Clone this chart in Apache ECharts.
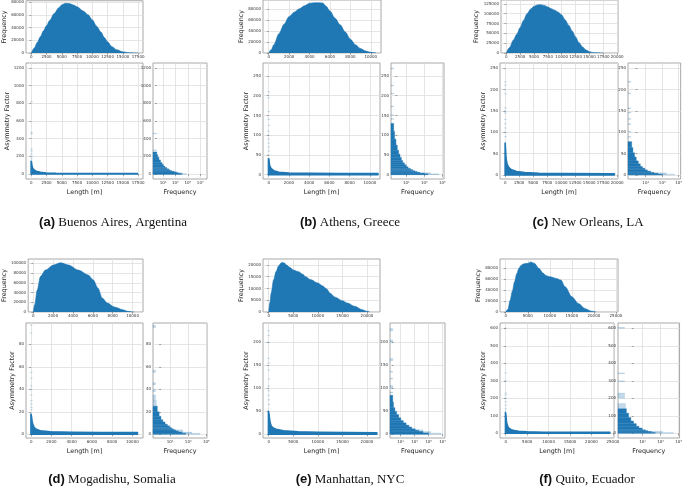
<!DOCTYPE html>
<html><head><meta charset="utf-8">
<script src="https://cdn.jsdelivr.net/npm/echarts@6/dist/echarts.min.js"></script>
<style>html,body{margin:0;padding:0;background:#fff}#c{width:685px;height:487px}</style>
</head><body><div id="c"></div>
<script>
// ---------------- DATA ----------------
const captionTags  = ['(a)', '(b)', '(c)', '(d)', '(e)', '(f)'];
const captionNames = ['Buenos Aires, Argentina', 'Athens, Greece', 'New Orleans, LA',
                      'Mogadishu, Somalia', 'Manhattan, NYC', 'Quito, Ecuador'];

// length histograms (top) : [length m, frequency]
const lengthHistA = [[0,0],[500,8000],[1000,17000],[1500,26000],[2000,35000],[2500,43000],[3000,51000],[3750,62000],[4500,71000],[5000,75500],[5600,78000],[6200,77500],[7000,75000],[7500,72500],[8500,66000],[9300,60000],[10000,52000],[10700,42000],[11400,33000],[12000,24000],[12500,17500],[13200,10000],[14000,5000],[15000,1800],[16000,400],[17000,50],[17500,0]];
const lengthHistB = [[0,0],[250,6000],[500,15000],[1000,35000],[1500,52000],[2000,66000],[2500,74000],[3000,80000],[3500,85500],[4000,90000],[4500,91000],[5000,91000],[5300,90500],[5600,85000],[6000,76000],[6500,63000],[7000,51000],[7500,38000],[8000,25000],[8500,15000],[9000,8000],[9500,3500],[10000,1200],[10500,0]];
const lengthHistC = [[0,0],[600,14000],[1250,32500],[1900,48000],[2500,65000],[3100,83000],[3750,100000],[4400,112000],[5000,119000],[5600,122500],[6200,123000],[6900,121000],[7500,117000],[8100,113000],[8750,109000],[9400,104000],[10000,97000],[10600,85000],[11250,71000],[11900,56000],[12500,41000],[13100,27000],[13750,15500],[14400,7500],[15000,3400],[15600,1300],[16300,400],[17000,100],[17500,0]];
const lengthHistD = [[0,0],[150,15000],[400,45000],[730,73000],[1230,86000],[2050,96500],[2750,101000],[3540,96500],[4540,86000],[5530,76000],[6030,66000],[6520,49000],[6950,28500],[7450,18400],[8180,10200],[9000,4800],[9500,1500],[10000,200],[10200,0]];
const lengthHistE = [[0,0],[250,4000],[500,8000],[1000,13700],[1500,17200],[2000,19600],[2500,20800],[2800,21100],[3200,20800],[3600,20000],[4300,19000],[5000,17900],[6000,17200],[7000,16000],[7500,15000],[8500,13800],[10000,12300],[11000,11100],[11800,9800],[12500,8000],[13500,6300],[15000,4800],[16000,3800],[17500,2400],[19000,1000],[20000,300],[20500,0]];
const lengthHistF = [[0,0],[500,5000],[1000,21500],[1500,38000],[2000,55400],[2500,70000],[3000,80000],[3500,85500],[4000,88000],[5000,89000],[5700,91700],[6500,89000],[7500,80000],[8500,70800],[9200,66500],[10000,64600],[11500,61500],[12500,58500],[13500,46000],[15000,27700],[16500,15400],[18000,6150],[19500,1500],[20500,0]];

// dense scatter band envelope : [length m, asymmetry factor]
const scatterEnvA = [[-30,0],[-30,145],[30,140],[80,100],[200,70],[400,50],[700,35],[1000,28],[1500,20],[2500,12],[4000,8],[7000,6],[12000,5],[17400,5],[17400,0]];
const scatterEnvB = [[-20,0],[-20,40],[20,40],[60,28],[120,22],[250,15],[500,10],[1000,6],[2000,4],[4000,3.5],[7000,3],[10800,3],[10800,0]];
const scatterEnvC = [[-30,0],[-30,75],[40,60],[100,45],[200,32],[350,24],[600,18],[1000,13],[2000,8],[3500,5.5],[6000,4],[10000,3.5],[19500,3],[19500,0]];
const scatterEnvD = [[-20,0],[-20,18],[30,16],[80,12],[150,9],[300,6],[500,4.5],[900,3.2],[1900,2.2],[4000,1.8],[7000,1.6],[10500,1.5],[10500,0]];
const scatterEnvE = [[-50,0],[-50,50],[60,45],[150,35],[300,25],[500,18],[900,14],[1500,11],[3000,7.5],[6000,5.5],[10000,4.5],[16000,4],[22000,3.5],[22000,0]];
const scatterEnvF = [[-60,0],[-60,120],[50,100],[150,70],[300,50],[500,38],[800,28],[1200,22],[2000,15],[3000,11],[5000,8],[9000,6],[15000,5],[24300,5],[24300,0]];

// sparse outlier points : [length m, asymmetry factor]
const scatterOutA = [[30,817],[20,470],[40,455],[10,280],[50,260],[15,230],[60,200],[25,175]];
const scatterOutB = [[0,210],[0,195],[10,160],[5,140],[15,125],[0,110],[20,100],[10,90],[30,80],[15,70],[25,60],[40,50]];
const scatterOutC = [[0,218],[0,210],[10,190],[5,157],[20,150],[0,145],[15,130],[10,120],[25,110],[5,100],[30,90]];
const scatterOutD = [[0,97],[0,90],[5,55],[10,50],[0,43],[15,40],[5,35],[20,30],[10,27],[25,24],[30,22]];
const scatterOutE = [[0,225],[0,215],[20,200],[0,165],[30,155],[10,140],[40,120],[15,105],[50,95],[20,85],[60,75],[30,65]];
const scatterOutF = [[0,600],[0,345],[20,300],[0,230],[30,220],[10,200],[40,180],[15,160],[50,140]];

// asymmetry histograms (right) : [bin low, bin high, log10 frequency]
const asymHistA = [[0,5,4.1],[5,10,3.7],[10,15,3.4],[15,20,3.1],[20,30,2.8],[30,40,2.4],[40,50,2.1],[50,60,1.9],[60,75,1.6],[75,90,1.3],[90,110,1.05],[110,130,0.85],[130,160,0.6],[160,190,0.35],[190,220,0.15],[220,250,0.0]];
const asymHistB = [[0,2,3.4],[2,4,3.0],[4,6,2.5],[6,8,2.2],[8,10,1.95],[10,13,1.7],[13,16,1.45],[16,20,1.2],[20,25,1.0],[25,30,0.8],[30,36,0.6],[36,44,0.45],[44,52,0.3],[52,62,0.15],[62,75,0.0],[75,90,-0.15],[90,110,-0.3],[110,130,-0.4]];
const asymHistC = [[0,2,3.0],[2,4,2.5],[4,6,2.0],[6,9,1.6],[9,12,1.2],[12,16,0.9],[16,20,0.6],[20,26,0.35],[26,33,0.1],[33,42,-0.15],[42,52,-0.35],[52,64,-0.55],[64,78,-0.7]];
const asymHistD = [[0,1,2.7],[1,2,2.3],[2,3,1.9],[3,4,1.6],[4,5,1.35],[5,6,1.15],[6,7.5,0.95],[7.5,9,0.7],[9,11,0.45],[11,13,0.2],[13,16,0.0],[16,20,-0.2],[20,25,-0.4]];
const asymHistE = [[0,3,5.0],[3,6,4.2],[6,9,3.6],[9,12,3.1],[12,16,2.6],[16,20,2.2],[20,25,1.8],[25,30,1.4],[30,36,1.05],[36,43,0.75],[43,50,0.45],[50,58,0.2],[58,70,0.0],[70,85,-0.1]];
const asymHistF = [[0,5,2.4],[5,10,2.0],[10,15,1.6],[15,20,1.3],[20,30,0.95],[30,40,0.6],[40,55,0.3],[55,70,0.0],[70,90,-0.3],[90,115,-0.55],[115,140,-0.8]];
const asymFaintA = [[0,5,4.8],[5,15,4.0],[15,30,3.2],[270,274,0.0],[460,464,0.0]];
const asymFaintB = [[0,2,4.6],[2,5,3.7],[140,142,-0.4],[150,152,-0.4],[172,174,-0.4],[205,207,-0.4],[225,227,-0.4],[268,270,-0.4]];
const asymFaintC = [[0,2,4.5],[2,5,3.5],[88,90,-0.8],[100,102,-0.8],[118,120,-0.8],[130,132,-0.8],[145,147,-0.8],[155,157,-0.8],[190,192,-0.8],[217,219,-0.8]];
const asymFaintD = [[0,1,4.3],[1,2,3.4],[2,4,2.4],[25,30,-0.5],[30,35,-0.6],[38,40,-0.6],[44,46,-0.6],[55,57,-0.6],[95,97,-0.6]];
const asymFaintE = [[0,3,6.8],[3,6,5.3],[6,10,4.2],[90,92,-0.1],[100,106,-0.1],[120,122,-0.1],[135,137,-0.1],[160,165,-0.1],[200,205,-0.1],[225,230,-0.1]];
const asymFaintF = [[0,5,4.4],[5,12,3.2],[140,170,-0.9],[200,230,-1.0],[295,300,-1.0],[340,345,-1.0],[600,605,-1.0]];

// tick labels
const lenTicksA = [0,2500,5000,7500,10000,12500,15000,17500];
const lenTicksB = [0,2000,4000,6000,8000,10000];
const lenTicksC = [0,2500,5000,7500,10000,12500,15000,17500,20000];
const lenTicksD = [0,2000,4000,6000,8000,10000];
const lenTicksE = [0,5000,10000,15000,20000];
const lenTicksF = [0,5000,10000,15000,20000,25000];
const freqTicksA = [0,20000,40000,60000,80000];
const freqTicksB = [0,20000,40000,60000,80000];
const freqTicksC = [0,25000,50000,75000,100000,125000];
const freqTicksD = [0,20000,40000,60000,80000,100000];
const freqTicksE = [0,5000,10000,15000,20000];
const freqTicksF = [0,20000,40000,60000,80000];
const asymTicksA = [0,200,400,600,800,1000,1200];
const asymTicksB = [0,50,100,150,200,250];
const asymTicksC = [0,50,100,150,200,250];
const asymTicksD = [0,20,40,60,80];
const asymTicksE = [0,50,100,150,200];
const asymTicksF = [0,100,200,300,400,500,600];
const logTicksA = [1,3,5,7];
const logTicksB = [1,3,5];
const logTicksC = [1,3,5];
const logTicksD = [1,3,5];
const logTicksE = [1,3,5,7];
const logTicksF = [1,3,5];

// ---------------- LAYOUT ----------------
const layouts = [
  {top:[26,0,117,53],  sc:[26,63,117,116],  rh:[153,63,54,116], cap:[113,216], lenTop:[-870,18300], lenSc:[-870,18300], freqMax:82000,  asym:[-56,1256], log:[-0.61,8.1], gF:18, gA:15},
  {top:[263,0,118,53], sc:[263,63,117,116], rh:[391,63,53,116], cap:[350,216], lenTop:[-560,11000], lenSc:[-560,11000], freqMax:96000,  asym:[-11,283],  log:[-0.7,5.18], gF:16, gA:12},
  {top:[501,0,117,53], sc:[500,63,118,116], rh:[628,63,54,116], cap:[588,216], lenTop:[-950,20150], lenSc:[-950,20150], freqMax:135000, asym:[-9.4,262], log:[-1.15,5.24], gF:19, gA:12},
  {top:[26,259,117,53], sc:[26,323,117,115], rh:[153,323,54,115], cap:[112,473], lenTop:[-510,11050], lenSc:[-510,11050], freqMax:108800, asym:[-3.3,99], log:[-0.88,5.07], gF:20, gA:10},
  {top:[263,259,117,53], sc:[263,323,117,115], rh:[390,323,55,115], cap:[350,473], lenTop:[-1160,22650], lenSc:[-1160,22650], freqMax:22540, asym:[-8,242], log:[-0.5,7.35], gF:16, gA:12},
  {top:[500,259,118,53], sc:[500,323,114,115], rh:[618,323,64,115], cap:[587,473], lenTop:[-1300,25470], lenSc:[-1340,25260], freqMax:97000, asym:[-27,630], log:[-1.73,5.1], gF:17, gA:12}
];

const panels = [
  {hist:lengthHistA, env:scatterEnvA, out:scatterOutA, rh:asymHistA, rf:asymFaintA, lt:lenTicksA, ft:freqTicksA, at:asymTicksA, gt:logTicksA},
  {hist:lengthHistB, env:scatterEnvB, out:scatterOutB, rh:asymHistB, rf:asymFaintB, lt:lenTicksB, ft:freqTicksB, at:asymTicksB, gt:logTicksB},
  {hist:lengthHistC, env:scatterEnvC, out:scatterOutC, rh:asymHistC, rf:asymFaintC, lt:lenTicksC, ft:freqTicksC, at:asymTicksC, gt:logTicksC},
  {hist:lengthHistD, env:scatterEnvD, out:scatterOutD, rh:asymHistD, rf:asymFaintD, lt:lenTicksD, ft:freqTicksD, at:asymTicksD, gt:logTicksD},
  {hist:lengthHistE, env:scatterEnvE, out:scatterOutE, rh:asymHistE, rf:asymFaintE, lt:lenTicksE, ft:freqTicksE, at:asymTicksE, gt:logTicksE},
  {hist:lengthHistF, env:scatterEnvF, out:scatterOutF, rh:asymHistF, rf:asymFaintF, lt:lenTicksF, ft:freqTicksF, at:asymTicksF, gt:logTicksF}
];

// ---------------- CHART ----------------
const BLUE = '#1f77b4';
const BLUE_FAINT = 'rgba(31,119,180,0.28)';
const SUP = {'-1':'⁻¹','0':'⁰','1':'¹','2':'²','3':'³','4':'⁴','5':'⁵','6':'⁶','7':'⁷','8':'⁸'};
const FONT = 'DejaVu Sans';
const plain = v => String(v);
const logFmt = v => '10' + SUP[String(v)];

function box(r) {
  return {left:r[0], top:r[1], width:r[2], height:r[3], containLabel:false,
          show:true, borderColor:'#a8a8a8', borderWidth:1, backgroundColor:'#fff'};
}
function axis(gi, range, ticks, fmt, extra) {
  return Object.assign({
    type:'value', gridIndex:gi, min:range[0], max:range[1],
    axisLine:{show:false},
    axisTick:{show:true, length:1.8, customValues:ticks, lineStyle:{color:'#666', width:0.6}},
    axisLabel:{show:true, customValues:ticks, formatter:fmt, fontSize:4, color:'#333', margin:2, fontFamily:FONT, hideOverlap:false},
    splitLine:{show:true, lineStyle:{color:'#dedede', width:0.8}},
    nameLocation:'middle',
    nameTextStyle:{fontSize:6.4, color:'#222', fontFamily:FONT}
  }, extra || {});
}
function polyRender(points, style) {
  return function (params, api) {
    if (params.dataIndex !== 0) return;
    const pts = points.map(p => api.coord(p));
    return {type:'polygon', shape:{points:pts}, style:style};
  };
}
function barhRender(params, api) {
  const lo = api.value(0), hi = api.value(1), f = api.value(2);
  const a = api.coord([f, hi]);
  const b = api.coord([f, lo]);
  const x0 = params.coordSys.x;
  const col = api.visual('color');
  return {type:'rect',
          shape:{x:x0, y:a[1], width:Math.max(0, a[0] - x0), height:Math.max(0.7, b[1] - a[1])},
          style:{fill:col, stroke:col, lineWidth:0.35}};
}

const option = {animation:false, backgroundColor:'#fff', grid:[], xAxis:[], yAxis:[], series:[], title:[]};

panels.forEach((P, i) => {
  const L = layouts[i];
  const g = option.grid.length;
  option.grid.push(box(L.top), box(L.sc), box(L.rh));
  option.xAxis.push(axis(g, L.lenTop, P.lt, plain));
  option.yAxis.push(axis(g, [0, L.freqMax], P.ft, plain, {name:'Frequency', nameGap:L.gF}));
  option.xAxis.push(axis(g+1, L.lenSc, P.lt, plain, {name:'Length [m]', nameGap:10.5}));
  option.yAxis.push(axis(g+1, L.asym, P.at, plain, {name:'Asymmetry Factor', nameGap:L.gA}));
  option.xAxis.push(axis(g+2, L.log, P.gt, logFmt, {name:'Frequency', nameGap:10.5}));
  option.yAxis.push(axis(g+2, L.asym, P.at, plain));

  option.series.push({
    type:'line', xAxisIndex:g, yAxisIndex:g, data:P.hist, symbol:'none',
    smooth:0.3, smoothMonotone:'x',
    lineStyle:{color:BLUE, width:0.6}, areaStyle:{color:BLUE, opacity:1}, z:3
  });
  option.series.push({
    type:'custom', xAxisIndex:g+1, yAxisIndex:g+1, data:P.env, encode:{x:0, y:1},
    renderItem:polyRender(P.env, {fill:BLUE, stroke:BLUE, lineWidth:1.6, lineJoin:'round'}), z:3
  });
  option.series.push({
    type:'scatter', xAxisIndex:g+1, yAxisIndex:g+1, data:P.out, symbol:'rect', symbolSize:[2.5,1.2],
    itemStyle:{color:BLUE_FAINT}, z:3
  });
  option.series.push({
    type:'custom', xAxisIndex:g+2, yAxisIndex:g+2, data:P.rf, dimensions:['lo','hi','f'],
    encode:{x:2, y:[0,1]}, renderItem:barhRender, itemStyle:{color:BLUE_FAINT}, z:3
  });
  option.series.push({
    type:'custom', xAxisIndex:g+2, yAxisIndex:g+2, data:P.rh, dimensions:['lo','hi','f'],
    encode:{x:2, y:[0,1]}, renderItem:barhRender, itemStyle:{color:BLUE}, z:4
  });

  option.title.push({
    text:'{t|' + captionTags[i] + '} {n|' + captionNames[i] + '}',
    left:L.cap[0], top:L.cap[1], textAlign:'center', padding:0,
    textStyle:{fontSize:13, fontFamily:'Liberation Serif', fontWeight:'normal', color:'#111',
      rich:{t:{fontFamily:'Liberation Sans', fontWeight:'bold', fontSize:13, color:'#111'},
            n:{fontFamily:'Liberation Serif', fontWeight:'normal', fontSize:13, color:'#111'}}}
  });
});

const chart = echarts.init(document.getElementById('c'), null, {renderer:'canvas'});
chart.setOption(option);
</script></body></html>
